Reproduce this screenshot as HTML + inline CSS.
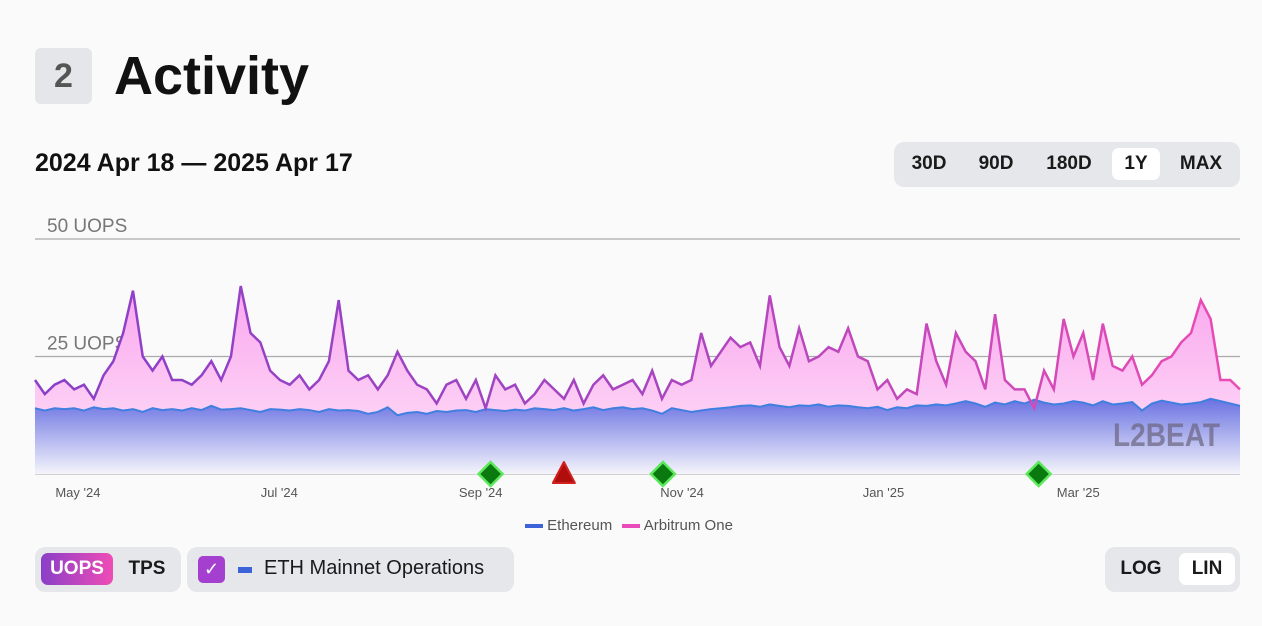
<!DOCTYPE html>
<html><head><meta charset="utf-8"><style>
body{margin:0;width:1262px;height:626px;background:#fafafa;font-family:"Liberation Sans",sans-serif;position:relative;overflow:hidden}
.abs{position:absolute}
.grp{position:absolute;background:#e6e7ea;border-radius:10px}
.btn{position:absolute;font-size:19px;font-weight:bold;color:#1a1a1a;text-align:center;line-height:32px;border-radius:7px}
</style></head><body>
<div class="abs" style="left:35px;top:48px;width:57px;height:56px;background:#e5e6ea;border-radius:6px;font-size:34px;font-weight:bold;color:#555;text-align:center;line-height:56px">2</div>
<div class="abs" style="left:114px;top:44px;font-size:54px;font-weight:bold;color:#111;line-height:64px">Activity</div>
<div class="abs" style="left:35px;top:149px;font-size:25px;font-weight:bold;color:#111">2024 Apr 18 — 2025 Apr 17</div>
<div class="grp" style="left:894px;top:142px;width:346px;height:45px">
<div class="btn" style="left:8px;top:6px;width:54px">30D</div>
<div class="btn" style="left:74px;top:6px;width:56px">90D</div>
<div class="btn" style="left:142px;top:6px;width:66px">180D</div>
<div class="btn" style="left:218px;top:6px;width:48px;background:#fff">1Y</div>
<div class="btn" style="left:276px;top:6px;width:62px">MAX</div>
</div>
<svg class="abs" style="left:0;top:200px" width="1262" height="340" id="chart">
<defs>
<linearGradient id="lg" x1="0" x2="1" y1="0" y2="0"><stop offset="0" stop-color="#8a3fc8"/><stop offset="0.5" stop-color="#a745c0"/><stop offset="1" stop-color="#ea4cb4"/></linearGradient>
<linearGradient id="pf" x1="0" x2="0" y1="0" y2="1"><stop offset="0" stop-color="#f9a6ee"/><stop offset="1" stop-color="#fdd0f5"/></linearGradient>
<linearGradient id="ef" x1="0" x2="0" y1="0" y2="1"><stop offset="0" stop-color="#6a72e2"/><stop offset="1" stop-color="#f4f4fb"/></linearGradient>
</defs>
<g id="g"></g>
</svg>
<div class="abs" style="left:525px;top:517px;font-size:15px;color:#555">
<span><span style="display:inline-block;width:18px;height:4px;background:#3c63d8;vertical-align:middle"></span> Ethereum</span>
<span style="margin-left:6px"><span style="display:inline-block;width:18px;height:4px;background:#e94cb8;vertical-align:middle"></span> Arbitrum One</span>
</div>
<div class="grp" style="left:35px;top:547px;width:146px;height:45px">
<div class="btn" style="left:6px;top:6px;width:72px;color:#fff;background:linear-gradient(90deg,#8a3fc8,#ef4cb6)">UOPS</div>
<div class="btn" style="left:82px;top:6px;width:60px">TPS</div>
</div>
<div class="grp" style="left:187px;top:547px;width:327px;height:45px">
<div class="abs" style="left:11px;top:9px;width:27px;height:27px;background:#a53fd0;border-radius:5px;color:#fff;font-size:18px;text-align:center;line-height:27px">✓</div>
<div class="abs" style="left:51px;top:20px;width:14px;height:6px;background:#3c63d8"></div>
<div class="abs" style="left:77px;top:10px;font-size:20px;color:#1a1a1a">ETH Mainnet Operations</div>
</div>
<div class="grp" style="left:1105px;top:547px;width:135px;height:45px">
<div class="btn" style="left:6px;top:6px;width:60px">LOG</div>
<div class="btn" style="left:74px;top:6px;width:56px;background:#fff">LIN</div>
</div>
<script>
const arbValues=[20,17,19,20,18,19,16,21,24,30,39,25,22,25,20,20,19,21,24,20,25,40,30,28,22,20,19,21,18,20,24,37,22,20,21,18,21,26,22,19,18,15,19,20,16,20,14,21,18,19,15,17,20,18,16,20,15,19,21,18,19,20,17,22,16,20,19,20,30,23,26,29,27,28,23,38,27,23,31,24,25,27,26,31,25,24,18,20,16,18,17,32,24,19,30,26,24,18,34,20,18,18,14,22,18,33,25,30,20,32,23,22,25,19,21,24,25,28,30,37,33,20,20,18];
const ethValues=[14,13.5,14,13.8,14,13.5,14.2,13.8,14,13.5,13.8,13.2,14,13.6,13.8,13.5,14,13.6,14.5,13.7,13.8,14,13.6,13.2,13.8,13.7,13.5,13.8,13.6,13.2,13.8,13.5,13.6,13.4,12.8,13.2,14.2,12.5,13,13.2,12.8,13.4,13.2,13.5,13.6,13.2,13.8,13.6,13.4,13.7,13.5,14,13.8,13.6,14,13.5,13.8,14.2,13.6,14,14.2,13.8,14,13.5,12.8,14,13.6,13.2,13.5,13.8,14,14.2,14.5,14.6,14.3,14.8,14.5,14.2,14.6,14.5,14.8,14.3,14.6,14.5,14.2,14,14.3,13.6,14.2,14,14.6,14.5,14.8,14.6,15,15.5,15,14.3,15.2,14.8,15.5,15,15.8,15.2,14.8,15,15.5,15.2,14.6,15.5,14.8,15,15.3,13.5,15,15.6,15.2,14.8,15,15.3,16,15.5,15,14.5];
const yTicks=[0,25,50];
const xLabels=["May '24","Jul '24","Sep '24","Nov '24","Jan '25","Mar '25"];
const xLabelDays=[13,74,135,196,257,316];
const upgradeDays=[138,190.2,304];
const incidentDays=[160.2];
const X0=35,X1=1240,Y0=274,TOTAL=365;
const xs=i=>X0+(X1-X0)*i/(arbValues.length-1);
const xd=d=>X0+(X1-X0)*d/TOTAL;
const ys=v=>Y0-v*4.7;
const g=document.getElementById('g');const NS='http://www.w3.org/2000/svg';
function mk(t,a){const e=document.createElementNS(NS,t);for(const k in a)e.setAttribute(k,a[k]);g.appendChild(e);return e;}
yTicks.forEach(t=>{const l=mk('line',{x1:X0,x2:X1,y1:ys(t),y2:ys(t),stroke:t==0?'#bbb':'#aaa','stroke-width':1.2});


const tx=mk('text',{x:47,y:ys(t)-7,'font-size':19,fill:'#777','font-family':'Liberation Sans'});tx.textContent=t+' UOPS';

});
const arbPts=arbValues.map((v,i)=>xs(i)+','+ys(v));
const ethPts=ethValues.map((v,i)=>xs(i)+','+ys(v));
const pa=mk('polygon',{points:arbPts.join(' ')+' '+ethPts.slice().reverse().join(' '),fill:'url(#pf)'});


const ea=mk('polygon',{points:ethPts.join(' ')+` ${X1},${Y0} ${X0},${Y0}`,fill:'url(#ef)'});


const el=mk('polyline',{points:ethPts.join(' '),fill:'none',stroke:'#3f7fe0','stroke-width':2});


const al=mk('polyline',{points:arbPts.join(' '),fill:'none',stroke:'url(#lg)','stroke-width':2.5});


const wm=mk('text',{x:1113,y:246,'font-size':32,fill:'#6a6480',opacity:0.7,'font-family':'Liberation Sans','font-weight':'bold',textLength:107,lengthAdjust:'spacingAndGlyphs'});wm.textContent='L2BEAT';


xLabels.forEach((s,i)=>{const t=mk('text',{x:xd(xLabelDays[i]),y:297,'font-size':13,fill:'#555','text-anchor':'middle','font-family':'Liberation Sans'});t.textContent=s;

});
upgradeDays.forEach(d=>{const x=xd(d);const p=mk('polygon',{points:`${x},${Y0-12} ${x+12},${Y0} ${x},${Y0+12} ${x-12},${Y0}`,fill:'#0a7a10',stroke:'#5be85b','stroke-width':2.5});

});
incidentDays.forEach(d=>{const x=xd(d);const p=mk('polygon',{points:`${x},${Y0-12} ${x+11},${Y0+9} ${x-11},${Y0+9}`,fill:'#b10d0d',stroke:'#d02020','stroke-width':2,'stroke-linejoin':'round'});

});
</script>
</body></html>
